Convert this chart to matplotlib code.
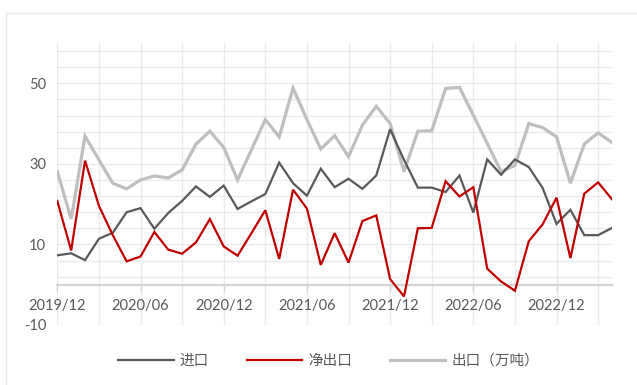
import matplotlib
matplotlib.use("Agg")
import matplotlib.pyplot as plt
from matplotlib.lines import Line2D
from matplotlib.patches import Rectangle

plt.rcParams['font.family'] = ['Lato', 'Noto Sans CJK SC', 'DejaVu Sans']

# Monthly series, 2019/12 – 2023/04 (万吨)
months = ['2019/12', '2020/01', '2020/02', '2020/03', '2020/04', '2020/05',
          '2020/06', '2020/07', '2020/08', '2020/09', '2020/10', '2020/11',
          '2020/12', '2021/01', '2021/02', '2021/03', '2021/04', '2021/05',
          '2021/06', '2021/07', '2021/08', '2021/09', '2021/10', '2021/11',
          '2021/12', '2022/01', '2022/02', '2022/03', '2022/04', '2022/05',
          '2022/06', '2022/07', '2022/08', '2022/09', '2022/10', '2022/11',
          '2022/12', '2023/01', '2023/02', '2023/03', '2023/04']

imports = [7.3, 7.8, 6.1, 11.4, 12.9, 18.0, 19.0, 13.9, 17.8, 20.8, 24.4, 21.8,
           24.6, 18.8, 20.7, 22.5, 30.3, 25.2, 22.1, 28.8, 24.2, 26.3, 23.8, 27.1,
           38.6, 31.0, 24.1, 24.1, 23.0, 27.1, 17.9, 31.1, 27.3, 31.1, 29.2, 24.0,
           15.1, 18.6, 12.3, 12.3, 14.1]

exports = [28.1, 16.3, 36.9, 31.0, 25.2, 23.8, 26.0, 27.0, 26.5, 28.5, 34.9, 38.1,
           34.1, 26.0, 33.5, 41.0, 36.7, 48.8, 41.0, 33.7, 37.0, 31.8, 39.6, 44.3,
           40.0, 28.1, 38.1, 38.2, 48.7, 49.0, 42.1, 35.1, 28.1, 29.6, 40.0, 39.0,
           36.7, 25.2, 34.9, 37.7, 35.3]

net_exports = [20.8, 8.5, 30.8, 19.6, 12.3, 5.8, 7.0, 13.1, 8.7, 7.7, 10.5, 16.3,
               9.5, 7.2, 12.8, 18.5, 6.4, 23.6, 18.9, 4.9, 12.8, 5.5, 15.8, 17.2,
               1.4, -2.9, 14.0, 14.1, 25.7, 21.9, 24.2, 4.0, 0.8, -1.5, 10.8, 15.0,
               21.6, 6.6, 22.6, 25.4, 21.2]

tick_labels = ['2019/12', '2020/06', '2020/12', '2021/06', '2021/12', '2022/06', '2022/12']
y_labels = [-10, 10, 30, 50]

C_IMP = '#595959'
C_NET = '#C00000'
C_EXP = '#BFBFBF'
TXT = '#595959'

W, H = 637, 385
fig = plt.figure(figsize=(W / 100, H / 100), dpi=100)
fig.patch.set_facecolor('white')

# light chart-area border
fig.patches.append(Rectangle((6 / W, -0.05), 1.1, 1 - 13 / H + 0.05,
                             transform=fig.transFigure, fill=False,
                             edgecolor='#e8e8e8', linewidth=1.0))

x0, x1 = 57.3, 612.0
y0, y1 = 43.0, 325.0
ax = fig.add_axes([x0 / W, 1 - y1 / H, (x1 - x0) / W, (y1 - y0) / H])
ax.set_facecolor('none')

n = len(months)
xs = list(range(n))
ax.set_xlim(0, n - 1)
ax.set_ylim(-10, 60)

# gridlines
for v in [-10] + list(range(2, 59, 4)):
    ax.axhline(v, color='#ebebeb', lw=1.0, zorder=0)
for i in range(0, n - 1, 3):
    ax.axvline(i, color='#ebebeb', lw=1.0, zorder=0)

for s in ['top', 'right', 'left']:
    ax.spines[s].set_visible(False)
ax.spines['bottom'].set_position(('data', 0))
ax.spines['bottom'].set_color('#d4d4d4')
ax.spines['bottom'].set_linewidth(1.6)
ax.spines['bottom'].set_zorder(1)

ax.plot(xs, exports, color=C_EXP, lw=2.3, zorder=3, solid_joinstyle='miter')
ax.plot(xs, imports, color=C_IMP, lw=1.6, zorder=4, solid_joinstyle='miter')
ax.plot(xs, net_exports, color=C_NET, lw=1.6, zorder=5, solid_joinstyle='miter')

ax.set_xticks([months.index(t) for t in tick_labels])
ax.set_xticklabels(tick_labels)
ax.tick_params(axis='x', direction='out', length=4, width=1, color='#d4d4d4',
               pad=6, labelsize=10.5, labelcolor=TXT)
ax.set_yticks(y_labels)
ax.set_yticklabels([str(v) for v in y_labels])
ax.tick_params(axis='y', length=0, pad=8, labelsize=10.5, labelcolor=TXT)

handles = [Line2D([], [], color=C_IMP, lw=1.6),
           Line2D([], [], color=C_NET, lw=1.6),
           Line2D([], [], color=C_EXP, lw=2.3)]
leg = fig.legend(handles, ['进口', '净出口', '出口（万吨）'], ncol=3,
                 loc='center', bbox_to_anchor=(0.516, 1 - 361 / H),
                 frameon=False, handlelength=3.8, handletextpad=0.4,
                 columnspacing=2.6, prop={'family': ['Noto Sans CJK SC'], 'size': 10.5})
for t in leg.get_texts():
    t.set_color(TXT)

fig.savefig('out.png', dpi=100, facecolor='white')
